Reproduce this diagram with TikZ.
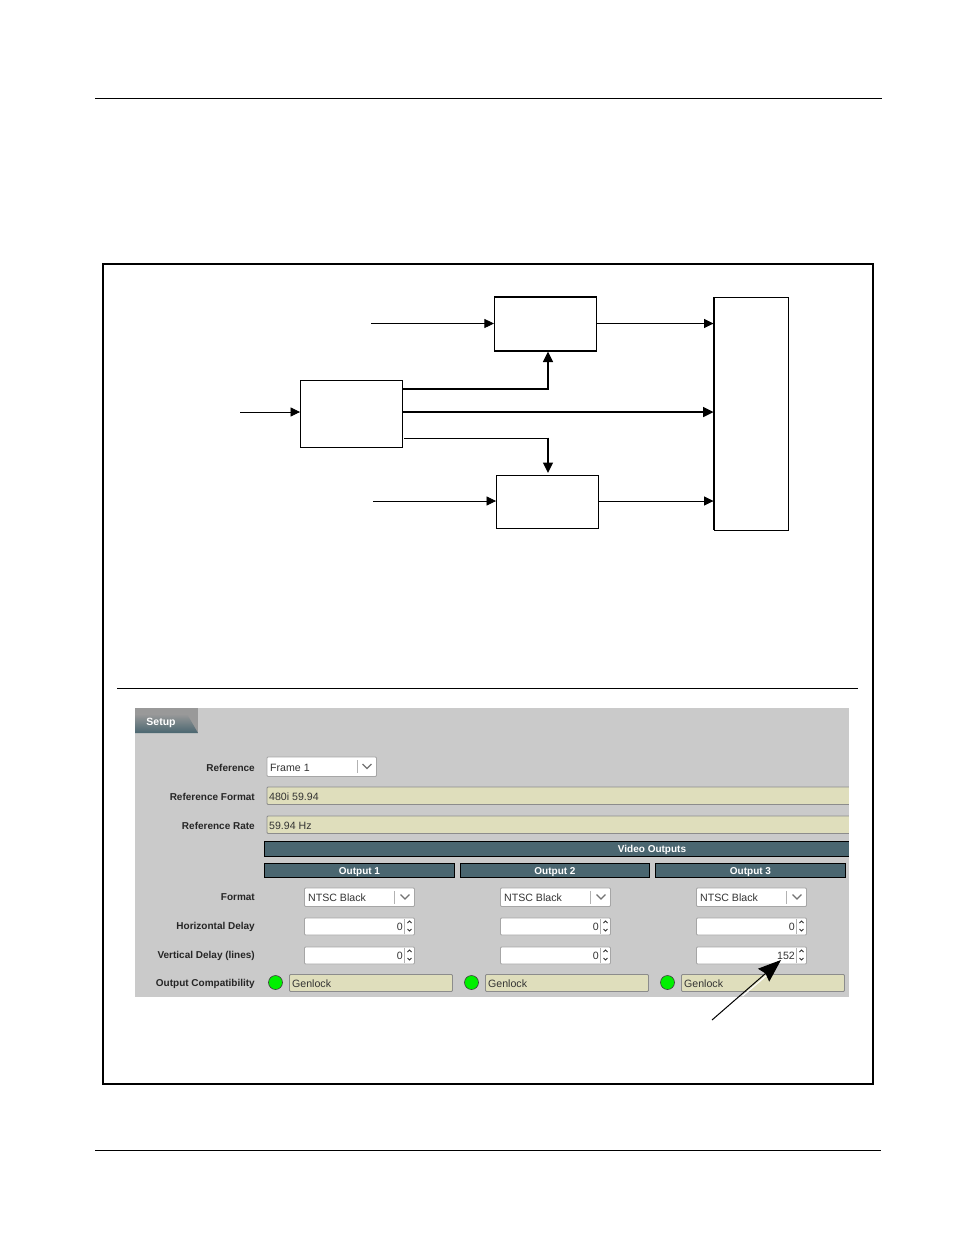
\documentclass[tikz,border=0pt]{standalone}
\usepackage{fontspec}
\setmainfont{Liberation Sans}
\usetikzlibrary{arrows.meta}
\definecolor{panelgrey}{HTML}{CACACA}
\definecolor{slatebar}{HTML}{4A6670}
\definecolor{khaki}{HTML}{DFDEBC}
\definecolor{ledgreen}{HTML}{00F000}
\tikzset{
    blockbox/.style={draw,line width=0.9pt,minimum width=#1,inner sep=0pt},
    sig/.style={-{Triangle[length=9.5pt,width=9pt]},line width=0.8pt},
    bus/.style={-{Triangle[length=10.5pt,width=10pt]},line width=1.6pt},
    wlabel/.style={anchor=east,font=\fontsize{10}{12}\selectfont\bfseries,text=black!85,inner sep=0pt},
    wtext/.style={font=\fontsize{10.6}{12}\selectfont,text=black!80,inner sep=0pt},
    headbar/.style={draw=black,fill=slatebar,line width=0.7pt,inner sep=0pt,text=white,font=\fontsize{10}{12}\selectfont\bfseries},
    readout/.style={draw=black!45,fill=khaki,line width=0.8pt,rounded corners=1pt},
    entry/.style={draw=black!35,fill=white,line width=0.8pt,rounded corners=1pt},
    chev/.style={draw=black!55,line width=1.3pt},
}
\begin{document}
\begin{tikzpicture}[x=1pt,y=-1pt]
\useasboundingbox (0,0) rectangle (954,1235);

% page rules and frame
\draw[line width=0.7pt] (95,98) -- (882,98);
\draw[line width=0.7pt] (95,1150) -- (881,1150);
\draw[line width=1.4pt] (103,264) rectangle (873,1084);
\draw[line width=0.6pt] (117,688) -- (858,688);

% block diagram
\node[blockbox=102pt,minimum height=54pt,line width=1.1pt] (delaytop) at (545.5,324) {};
\node[blockbox=102pt,minimum height=67pt] (conv) at (351.5,413.5) {};
\node[blockbox=102pt,minimum height=53pt] (delaybot) at (547.5,501.5) {};
\node[blockbox=74pt,minimum height=232.5pt] (outs) at (751,413.7) {};
\draw[line width=1.1pt] (outs.north west) -- (outs.south west);

\coordinate (intop) at (371,323.5);
\coordinate (inleft) at (240,412);
\coordinate (inbot) at (373,501);

\draw[sig] (intop) -- (delaytop.west |- intop);
\draw[sig] (inleft) -- (conv.west |- inleft);
\draw[sig] (inbot) -- (delaybot.west |- inbot);
\draw[sig] (delaytop.east |- intop) -- (outs.west |- intop);
\draw[sig] (delaybot.east |- inbot) -- (outs.west |- inbot);
\draw[bus] (conv.east |- inleft) -- (outs.west |- inleft);
\draw[bus] ([yshift=24.5pt]conv.east) -| ([xshift=2.5pt]delaytop.south);
\draw[line width=0.8pt] ([xshift=1.5pt,yshift=-24.5pt]conv.east) -- (548,438);
\draw[bus] (548,437.6) -- (548,473);

% setup panel
\fill[panelgrey] (135,708) rectangle (849,997);
\fill[black!40] (135,708) rectangle (198,733);
\shade[top color=black!40,bottom color=slatebar] (135,714) -- (187,714) -- (198,733) -- (135,733) -- cycle;
\node[font=\fontsize{10.5}{12}\selectfont\bfseries,text=white,inner sep=0pt] (tabsetup) at (161,722.5) {Setup};

\node[wlabel] (lblref) at (255,767.5) {Reference};
\node[wlabel] (lblfmt) at (255,796.5) {Reference Format};
\node[wlabel] (lblrate) at (255,825.5) {Reference Rate};
\node[wlabel] (lblformat) at (255,897.5) {Format};
\node[wlabel] (lblhor) at (255,927) {Horizontal Delay};
\node[wlabel] (lblver) at (255,955.5) {Vertical Delay (lines)};
\node[wlabel] (lblcomp) at (255,983.5) {Output Compatibility};

\draw[entry] (267,757) rectangle (376.5,776.5);
\draw[black!30] (357,760) -- (357,773);
\draw[chev] (362.5,764) -- (367,768.5) -- (371.5,764);
\node[wtext,anchor=west] (reftxt) at (270,767.5) {Frame 1};

\draw[readout] (267,787) rectangle (851,804.5);
\node[wtext,anchor=west] (fmttxt) at (269,796.5) {480i 59.94};
\draw[readout] (267,816) rectangle (851,833.5);
\node[wtext,anchor=west] (ratetxt) at (269,825.5) {59.94 Hz};
\fill[white] (849.4,780) rectangle (853,840);

\node[headbar,minimum width=585pt,minimum height=15pt] (vidbar) at (556.5,849) {};
\fill[white] (849.4,840) rectangle (853,860);
\node[text=white,font=\fontsize{10}{12}\selectfont\bfseries,inner sep=0pt] (vidtxt) at (652,850) {Video Outputs};

% the three output columns
\foreach \n/\dx/\w/\xbar/\val in {1/0/190/359.5/0,2/196/189/555/0,3/392/190/750.5/152}{
    \node[headbar,minimum width=\w pt,minimum height=14.5pt] (out\n) at (\xbar,870.5) {\raisebox{-4pt}[0pt][0pt]{Output \n}};
    \draw[entry] ({304.5+\dx},888) rectangle ({414.5+\dx},906.5);
    \draw[black!30] ({394.5+\dx},891) -- ({394.5+\dx},904);
    \draw[chev] ({400.5+\dx},894.5) -- ({405+\dx},899) -- ({409.5+\dx},894.5);
    \node[wtext,anchor=west] (fmt\n) at ({308+\dx},898) {NTSC Black};
    \draw[entry] ({304.5+\dx},918) rectangle ({414.5+\dx},935);
    \draw[entry] ({304.5+\dx},947) rectangle ({414.5+\dx},964);
    \draw[black!30] ({404.5+\dx},919) -- ({404.5+\dx},934) ({404.5+\dx},948) -- ({404.5+\dx},963);
    \foreach \y in {918,947}{
        \draw[black!80,line width=1pt] ({407.5+\dx},\y+5) -- ({409.5+\dx},\y+3) -- ({411.5+\dx},\y+5)
            ({407.5+\dx},\y+11) -- ({409.5+\dx},\y+13) -- ({411.5+\dx},\y+11);
    }
    \node[wtext,anchor=east] (hval\n) at ({403+\dx},927) {0};
    \node[wtext,anchor=east] (vval\n) at ({403+\dx},956) {\val};
    \node[circle,draw=black!75,fill=ledgreen,minimum size=14pt,inner sep=0pt,line width=0.6pt] (led\n) at ({275.5+\dx},982.5) {};
    \draw[readout] ({289.5+\dx},974.5) rectangle ({452.5+\dx},991.5);
    \node[wtext,anchor=west] (gen\n) at ({292+\dx},984) {Genlock};
}

% pointer to the value
\coordinate (ptrstart) at (712,1020);
\coordinate (ptrend) at (781,960);
\draw[white,line width=1pt] (742.5,996) -- (773,970);
\draw[-{Stealth[length=23pt,width=17pt,inset=2.5pt]},line width=1pt] (ptrstart) -- (ptrend);
\end{tikzpicture}
\end{document}
